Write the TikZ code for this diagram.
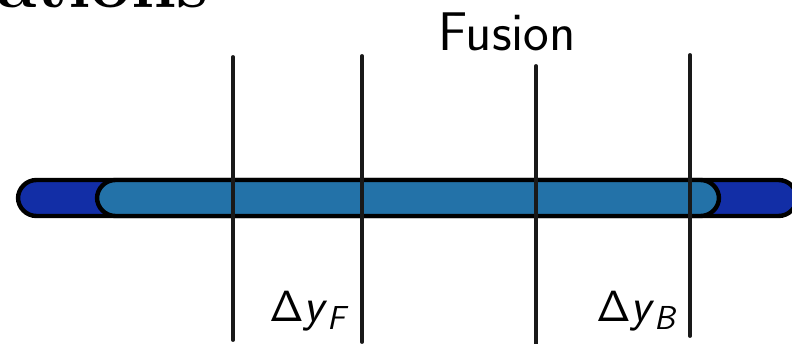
\documentclass[tikz,border=0pt]{standalone}
\usepackage{tikz}
\usetikzlibrary{positioning}
\definecolor{beamdark}{RGB}{18,46,166}
\definecolor{beamlight}{RGB}{35,114,168}
\tikzset{
  capsule/.style={draw=black, line width=2.5pt, rounded corners=0.37cm},
  cut/.style={draw=black!90, line width=2.2pt, line cap=round},
  lbl/.style={font=\fontsize{27}{32}\selectfont\sffamily, inner sep=0pt,
              anchor=base west},
}

\begin{document}
\begin{tikzpicture}[x=0.02cm, y=-0.02cm]
\useasboundingbox (0,0) rectangle (792,344);

% slide title, cut off at the top
\node[font=\fontsize{41}{41}\selectfont\bfseries, inner sep=0pt,
      anchor=base west] (title) at (-3,8) {ations};

\node[font=\fontsize{31}{36}\selectfont\sffamily, inner sep=0pt,
      anchor=base] (fusion) at (507,51) {Fusion};

% projectile and target
\path[capsule, fill=beamdark] (18,180) rectangle (797,216);
\path[capsule, fill=beamlight] (97,180) rectangle (719,216);

% rapidity cuts
\foreach \x/\top/\bot in {233/57/340, 362/56/342, 536/66/346, 690/55/336}
  \draw[cut] (\x,\top) -- (\x,\bot);

\node[lbl] (dyf) at (269,322) {$\mathsf{\Delta}$\textit{y}\textsubscript{\textit{F}}};
\node[lbl] (dyb) at (596,322) {$\mathsf{\Delta}$\textit{y}\textsubscript{\textit{B}}};

\end{tikzpicture}
\end{document}
